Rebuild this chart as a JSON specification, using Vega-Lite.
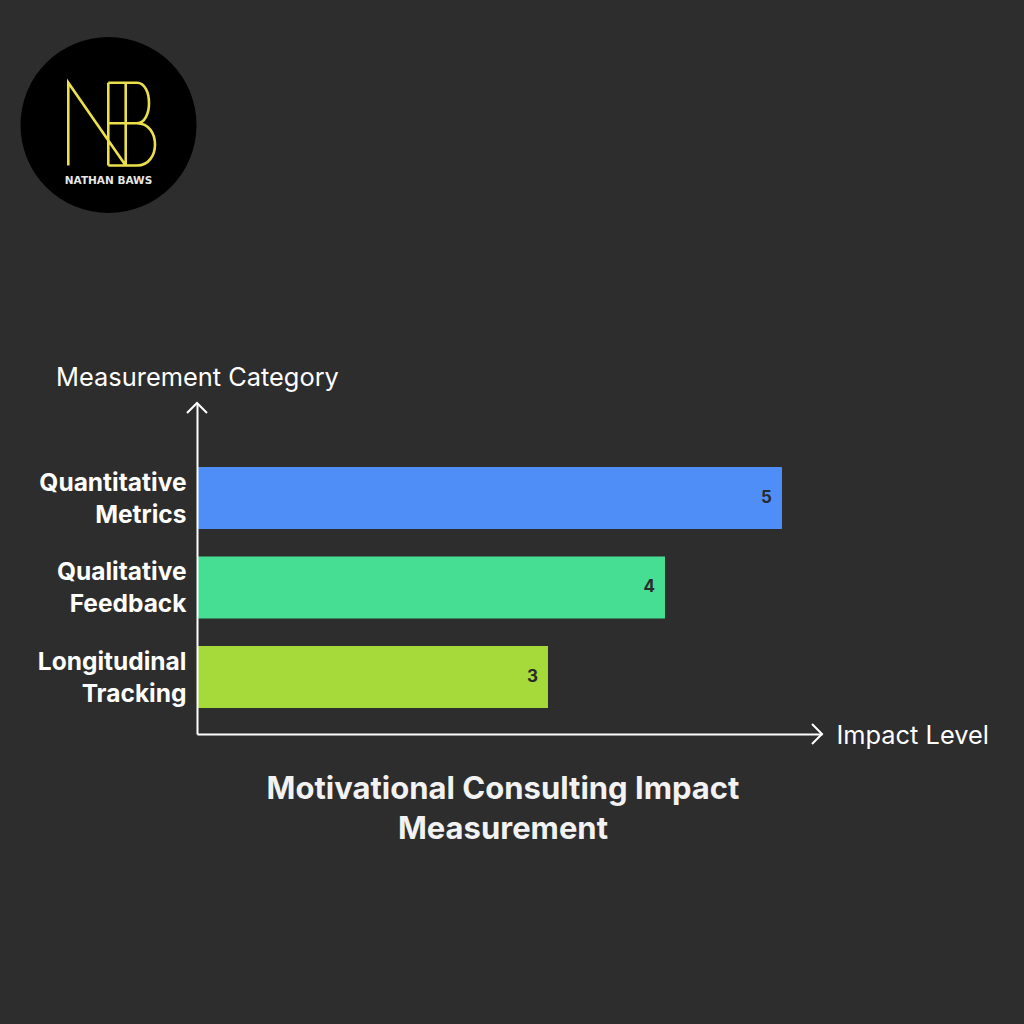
{
  "$schema": "https://vega.github.io/schema/vega-lite/v6.json",
  "width": 1024,
  "height": 1024,
  "padding": 0,
  "autosize": {"type": "none"},
  "background": "#2d2d2d",
  "config": {"view": {"stroke": null}},
  "title": {
    "text": ["Motivational Consulting Impact", "Measurement"],
    "orient": "top",
    "anchor": "middle",
    "frame": "group",
    "offset": 0,
    "dy": 861,
    "dx": -9,
    "baseline": "middle",
    "lineHeight": 40,
    "font": "Inter",
    "fontSize": 31,
    "fontWeight": "bold",
    "color": "#f2f2f2"
  },
  "layer": [
    {
      "data": {
        "values": [
          {"category": "Quantitative Metrics", "impact": 5},
          {"category": "Qualitative Feedback", "impact": 4},
          {"category": "Longitudinal Tracking", "impact": 3}
        ]
      },
      "encoding": {
        "y": {
          "field": "category",
          "type": "nominal",
          "sort": null,
          "scale": {"range": [403, 734], "paddingInner": 0.307, "paddingOuter": 0.5028, "align": 0.711},
          "axis": {
            "offset": -197,
            "domainColor": "#ffffff",
            "domainWidth": 2,
            "ticks": false,
            "tickSize": 0,
            "grid": false,
            "labelExpr": "split(datum.label, ' ')",
            "labelFont": "Inter",
            "labelFontWeight": "bold",
            "labelFontSize": 24.5,
            "labelColor": "#ffffff",
            "labelLineHeight": 32,
            "labelOffset": -14,
            "labelPadding": 11,
            "labelLimit": 0,
            "title": "Measurement Category",
            "titleAngle": 0,
            "titleX": 0,
            "titleY": 377,
            "titleAlign": "center",
            "titleBaseline": "middle",
            "titleFont": "Inter",
            "titleFontSize": 25.4,
            "titleFontWeight": "normal",
            "titleColor": "#ffffff",
            "zindex": 1
          }
        },
        "x": {
          "field": "impact",
          "type": "quantitative",
          "scale": {"domain": [0, 5.342], "range": [197, 822], "nice": false, "zero": true},
          "axis": {
            "offset": -290,
            "domainColor": "#ffffff",
            "domainWidth": 2,
            "ticks": false,
            "labels": false,
            "grid": false,
            "title": "Impact Level",
            "titleX": 836,
            "titleY": 1,
            "titleAlign": "left",
            "titleBaseline": "middle",
            "titleFont": "Inter",
            "titleFontSize": 25.4,
            "titleFontWeight": "normal",
            "titleColor": "#ffffff",
            "zindex": 1
          }
        }
      },
      "layer": [
        {
          "mark": {"type": "bar"},
          "encoding": {
            "color": {
              "field": "category",
              "type": "nominal",
              "scale": {
                "domain": ["Quantitative Metrics", "Qualitative Feedback", "Longitudinal Tracking"],
                "range": ["#4f8ef7", "#45de93", "#a6d93a"]
              },
              "legend": null
            }
          }
        },
        {
          "mark": {"type": "text", "align": "right", "dx": -10, "baseline": "middle", "font": "Inter", "fontWeight": "bold", "fontSize": 17, "color": "#2a2a2a"},
          "encoding": {"text": {"field": "impact", "type": "quantitative"}}
        }
      ]
    },
    {
      "data": {"values": [{}]},
      "layer": [
        {
          "mark": {"type": "point", "shape": "M-1,1L0,0L1,1", "size": 400, "filled": false, "stroke": "#ffffff", "strokeWidth": 2, "opacity": 1},
          "encoding": {
            "x": {"datum": 0, "type": "quantitative", "scale": {"domain": [0, 5.342], "range": [197, 822], "nice": false, "zero": false}, "axis": null},
            "y": {"datum": 1, "type": "quantitative", "scale": {"domain": [0, 1], "range": [734, 403], "nice": false, "zero": false}, "axis": null}
          }
        },
        {
          "mark": {"type": "point", "shape": "M-1,-1L0,0L-1,1", "size": 400, "filled": false, "stroke": "#ffffff", "strokeWidth": 2, "opacity": 1},
          "encoding": {
            "x": {"datum": 5.342, "type": "quantitative"},
            "y": {"datum": 0, "type": "quantitative"}
          }
        }
      ]
    },
    {
      "data": {"values": [{}]},
      "layer": [
        {
          "mark": {"type": "point", "shape": "circle", "size": 30976, "filled": true, "color": "#000000", "opacity": 1, "strokeWidth": 0},
          "encoding": {
            "x": {"datum": 0, "type": "quantitative", "scale": {"domain": [-1, 1], "range": [20.5, 196.5], "nice": false, "zero": false}, "axis": null},
            "y": {"datum": 0, "type": "quantitative", "scale": {"domain": [-1, 1], "range": [37, 213], "nice": false, "zero": false}, "axis": null}
          }
        },
        {
          "mark": {
            "type": "point",
            "shape": "M-0.402,0.405L-0.402,-0.423L0.172,0.405M-0.002,-0.423L-0.002,0.405M0.172,-0.423L0.172,0.405M-0.002,-0.423L0.285,-0.423C0.445,-0.423 0.445,-0.017 0.285,-0.017L-0.002,-0.017M0.285,-0.017C0.525,-0.017 0.525,0.405 0.285,0.405L-0.002,0.405",
            "size": 40000,
            "filled": false,
            "stroke": "#ece04a",
            "strokeWidth": 2.6,
            "opacity": 1
          },
          "encoding": {
            "x": {"datum": 0, "type": "quantitative"},
            "y": {"datum": 0, "type": "quantitative"}
          }
        },
        {
          "mark": {"type": "text", "text": "NATHAN BAWS", "align": "center", "baseline": "middle", "font": "DejaVu Sans", "fontWeight": "bold", "fontSize": 10.5, "color": "#e6e6e6"},
          "encoding": {
            "x": {"datum": 0, "type": "quantitative"},
            "y": {"datum": 0.64, "type": "quantitative"}
          }
        }
      ]
    }
  ],
  "resolve": {
    "scale": {"x": "independent", "y": "independent", "color": "independent"},
    "axis": {"x": "independent", "y": "independent"}
  }
}
